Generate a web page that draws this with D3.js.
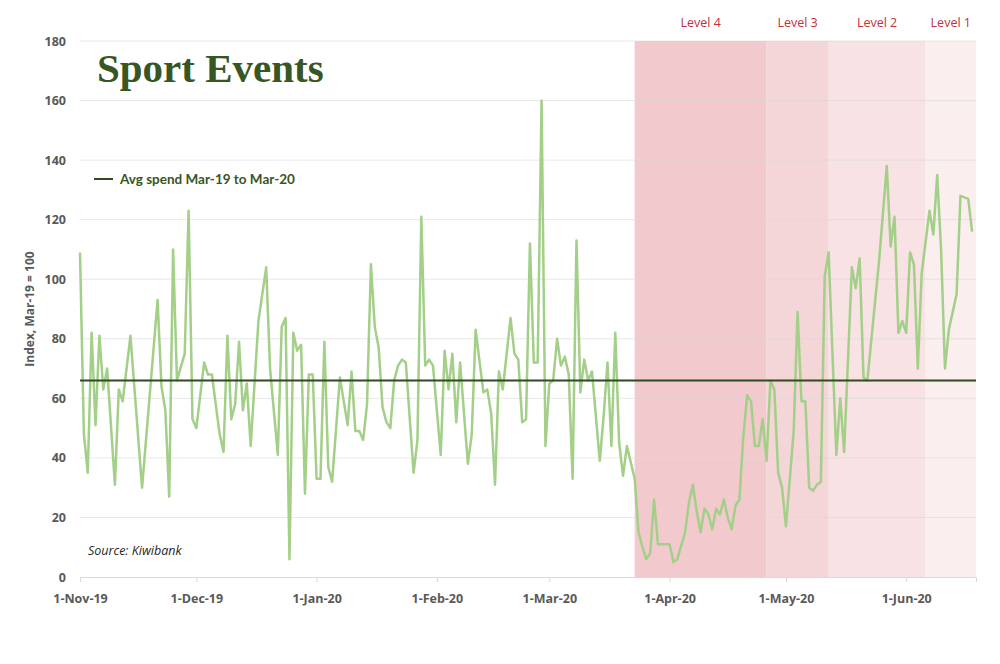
<!DOCTYPE html>
<html>
<head>
<meta charset="utf-8">
<script src="https://cdn.jsdelivr.net/npm/d3@7"></script>
<style>
  body { margin: 0; background: #fff; }
  svg { display: block; }
  .tick text { font-family: "Open Sans", sans-serif; font-weight: bold; fill: #595959; }
</style>
</head>
<body>
<svg id="chart" width="1000" height="664"></svg>
<script>
// daily spend index, day offsets counted from 1-Nov-19
var startDate = new Date(2019, 10, 1);
var days = [0, 1, 2, 3, 4, 5, 6, 7, 9, 10, 11, 13, 16, 20, 21, 22, 23, 24, 25, 27, 28, 29, 30, 32,
  33, 34, 36, 37, 38, 39, 40, 41, 42, 43, 44, 46, 48, 49, 51, 52, 53, 54, 55, 56, 57, 58, 59, 60,
  61, 62, 63, 64, 65, 67, 69, 70, 71, 72, 73, 74, 75, 76, 77, 78, 79, 80, 81, 82, 83, 84, 86, 87,
  88, 89, 90, 91, 93, 94, 95, 96, 97, 98, 100, 101, 102, 104, 105, 106, 107, 108, 109, 111, 112,
  113, 114, 115, 116, 117, 118, 119, 120, 121, 122, 123, 124, 125, 126, 127, 128, 129, 130, 131,
  132, 134, 135, 136, 137, 138, 139, 140, 141, 143, 144, 145, 146, 147, 148, 149, 151, 152, 153,
  154, 156, 157, 158, 159, 160, 161, 162, 163, 164, 165, 166, 167, 168, 169, 170, 171, 172, 173,
  174, 175, 176, 177, 178, 179, 180, 181, 182, 184, 185, 186, 187, 188, 189, 190, 191, 192, 193,
  195, 196, 197, 199, 200, 201, 202, 203, 206, 208, 209, 210, 211, 212, 213, 214, 215, 216, 217,
  219, 220, 221, 222, 223, 224, 226, 227, 229, 230];
var spend = [109, 48, 35, 82, 51, 81, 63, 70, 31, 63, 59, 81, 30, 93, 64, 56, 27, 110, 66, 75, 123, 53, 50, 72,
  68, 68, 48, 42, 81, 53, 58, 79, 56, 65, 44, 86, 104, 70, 41, 84, 87, 6, 82, 76, 78, 28, 68, 68,
  33, 33, 79, 37, 32, 67, 51, 69, 49, 49, 46, 58, 105, 84, 77, 57, 52, 50, 66, 71, 73, 72, 35, 46,
  121, 71, 73, 71, 41, 76, 63, 75, 52, 72, 38, 48, 83, 62, 63, 55, 31, 69, 63, 87, 75,
  73, 52, 53, 112, 72, 72, 160, 44, 65, 66, 80, 71, 74, 68, 33, 113, 62, 73, 66,
  69, 39, 54, 72, 44, 82, 45, 34, 44, 33, 15, 10, 6, 8, 26, 11, 11, 11, 5,
  6, 15, 25, 31, 22, 15, 23, 21, 16, 23, 21, 26, 20, 16, 24, 26, 47, 61, 59,
  44, 44, 53, 39, 66, 63, 35, 30, 17, 49, 89, 59, 59, 30, 29, 31, 32, 101, 109,
  41, 60, 42, 104, 97, 107, 67, 66, 106, 138, 111, 121, 82, 86, 82, 109, 105, 70, 102,
  123, 115, 135, 110, 70, 83, 95, 128, 127, 116];
var avgSpend = 66;

var levelNames = ["Level 4", "Level 3", "Level 2", "Level 1"];
var levelStarts = ["2020-03-23", "2020-04-26", "2020-05-12", "2020-06-06"];
var levelColors = ["#f2cace", "#f4d5d8", "#f8e2e3", "#fbeeee"];
var endDate = new Date(2020, 5, 19);

var yTicks = [0, 20, 40, 60, 80, 100, 120, 140, 160, 180];
var monthTicks = ["2019-11-01", "2019-12-01", "2020-01-01", "2020-02-01", "2020-03-01",
  "2020-04-01", "2020-05-01", "2020-06-01"];

var parse = d3.timeParse("%Y-%m-%d");
var data = days.map(function(d, i) {
  return { date: d3.timeDay.offset(startDate, d), value: spend[i] };
});

var margin = { top: 41, right: 24, bottom: 87, left: 80 },
    width = 1000 - margin.left - margin.right,
    height = 664 - margin.top - margin.bottom;

var svg = d3.select("#chart");
var g = svg.append("g").attr("transform", "translate(" + margin.left + "," + margin.top + ")");

var x = d3.scaleTime().domain([startDate, endDate]).range([0, width]);
var y = d3.scaleLinear().domain([0, 180]).range([height, 0]);

// alert level shading
var levels = levelNames.map(function(name, i) {
  return {
    name: name,
    start: parse(levelStarts[i]),
    end: i < levelStarts.length - 1 ? parse(levelStarts[i + 1]) : endDate,
    color: levelColors[i]
  };
});

g.selectAll("rect.level")
  .data(levels)
  .enter().append("rect")
  .attr("class", "level")
  .attr("x", function(d) { return x(d.start); })
  .attr("width", function(d) { return x(d.end) - x(d.start); })
  .attr("y", 0)
  .attr("height", height)
  .attr("fill", function(d) { return d.color; });

g.selectAll("text.level-label")
  .data(levels)
  .enter().append("text")
  .attr("class", "level-label")
  .attr("x", function(d) { return (x(d.start) + x(d.end)) / 2; })
  .attr("y", -14)
  .attr("text-anchor", "middle")
  .attr("font-family", "Open Sans, sans-serif")
  .attr("font-size", "12.5px")
  .attr("fill", "#c0303f")
  .text(function(d) { return d.name; });

// gridlines
g.append("g")
  .selectAll("line")
  .data(yTicks.slice(1))
  .enter().append("line")
  .attr("x1", 0).attr("x2", width)
  .attr("y1", function(d) { return y(d); })
  .attr("y2", function(d) { return y(d); })
  .attr("stroke", "#d9d9d9")
  .attr("stroke-opacity", 0.6)
  .attr("stroke-width", 1);

// y axis
var yAxis = g.append("g")
  .call(d3.axisLeft(y).tickValues(yTicks).tickSize(0).tickPadding(14));
yAxis.select(".domain").remove();
yAxis.selectAll("text").attr("font-size", "12.5px");

// x axis
var xAxis = g.append("g")
  .attr("transform", "translate(0," + height + ")")
  .call(d3.axisBottom(x)
    .tickValues(monthTicks.map(parse))
    .tickFormat(d3.timeFormat("%-d-%b-%y"))
    .tickSize(5)
    .tickPadding(12));
xAxis.select(".domain").attr("stroke", "#d9d9d9");
xAxis.selectAll(".tick line").attr("stroke", "#d9d9d9");
xAxis.selectAll("text").attr("font-size", "12.5px");

// spend line
var line = d3.line()
  .x(function(d) { return x(d.date); })
  .y(function(d) { return y(d.value); });

g.append("path")
  .datum(data)
  .attr("fill", "none")
  .attr("stroke", "#a3cf88")
  .attr("stroke-width", 2.5)
  .attr("stroke-linejoin", "round")
  .attr("d", line);

// average line
g.append("line")
  .attr("x1", 0).attr("x2", width)
  .attr("y1", y(avgSpend)).attr("y2", y(avgSpend))
  .attr("stroke", "#2f4a20")
  .attr("stroke-width", 2);

// title, legend, source
svg.append("text")
  .attr("x", 97).attr("y", 82)
  .attr("font-family", "Liberation Serif, serif")
  .attr("font-weight", "bold")
  .attr("font-size", "41px")
  .attr("fill", "#375623")
  .text("Sport Events");

svg.append("line")
  .attr("x1", 94).attr("x2", 113)
  .attr("y1", 179).attr("y2", 179)
  .attr("stroke", "#2f4a20")
  .attr("stroke-width", 2);

svg.append("text")
  .attr("x", 120).attr("y", 183.5)
  .attr("font-family", "Lato, sans-serif")
  .attr("font-weight", "bold")
  .attr("font-size", "13.5px")
  .attr("fill", "#375623")
  .text("Avg spend Mar-19 to Mar-20");

svg.append("text")
  .attr("x", 88).attr("y", 555)
  .attr("font-family", "Open Sans, sans-serif")
  .attr("font-style", "italic")
  .attr("font-size", "12.5px")
  .attr("fill", "#262626")
  .text("Source: Kiwibank");

svg.append("text")
  .attr("transform", "translate(34," + (margin.top + y(90)) + ") rotate(-90)")
  .attr("text-anchor", "middle")
  .attr("font-family", "Open Sans, sans-serif")
  .attr("font-weight", "bold")
  .attr("font-size", "12px")
  .attr("fill", "#595959")
  .text("Index, Mar-19 = 100");
</script>
</body>
</html>
